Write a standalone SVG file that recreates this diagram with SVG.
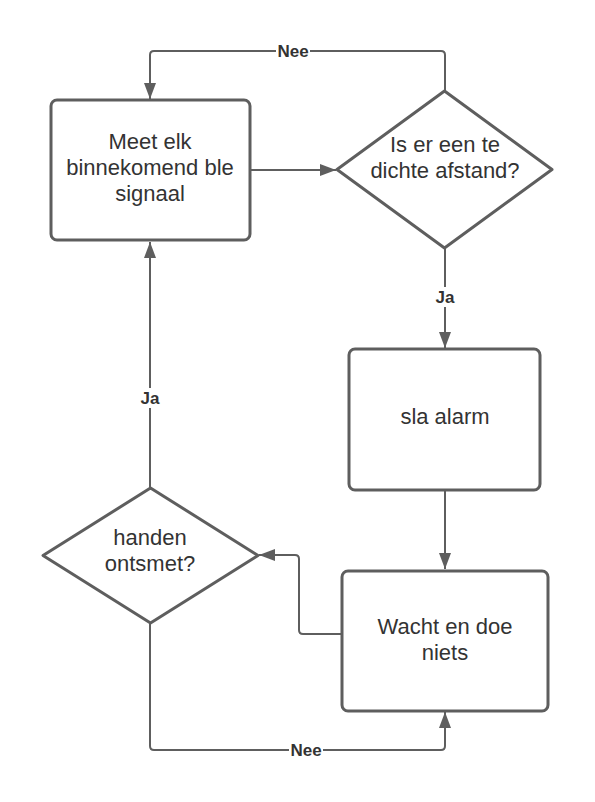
<svg xmlns="http://www.w3.org/2000/svg" width="595" height="802" viewBox="0 0 595 802">
<style>
.node{fill:#ffffff;stroke:#5e5e5e;stroke-width:3;stroke-linejoin:round}
.edge{fill:none;stroke:#5e5e5e;stroke-width:2;stroke-linejoin:round}
.t{font-family:"Liberation Sans",Arial,sans-serif;font-size:22px;fill:#333333;text-anchor:middle}
.lbl{font-family:"Liberation Sans",Arial,sans-serif;font-size:17px;font-weight:bold;fill:#333333;text-anchor:middle}
.bg{fill:#ffffff}
</style>
<defs>
<marker id="arr" markerUnits="userSpaceOnUse" markerWidth="16" markerHeight="12" refX="16" refY="6" orient="auto">
<path d="M0,0 L16,6 L0,12 Z" fill="#5e5e5e"/>
</marker>
</defs>
<rect width="595" height="802" fill="#ffffff"/>
<g id="connectors">
<path class="edge" d="M445,91 V55 Q445,51 441,51 H154 Q150,51 150,55 V99" marker-end="url(#arr)"/>
<path class="edge" d="M250,170 H336" marker-end="url(#arr)"/>
<path class="edge" d="M445,248 V348" marker-end="url(#arr)"/>
<path class="edge" d="M445,490 V569" marker-end="url(#arr)"/>
<path class="edge" d="M342,634 H303 Q299,634 299,630 V559 Q299,555 295,555 H259" marker-end="url(#arr)"/>
<path class="edge" d="M150,488 V242" marker-end="url(#arr)"/>
<path class="edge" d="M150,623 V746 Q150,750 154,750 H441 Q445,750 445,746 V712" marker-end="url(#arr)"/>
<rect class="bg" x="276" y="42" width="34" height="18"/>
<text class="lbl" x="293" y="57">Nee</text>
<rect class="bg" x="434" y="287" width="22" height="20"/>
<text class="lbl" x="445" y="303">Ja</text>
<rect class="bg" x="139" y="388" width="22" height="20"/>
<text class="lbl" x="150" y="404">Ja</text>
<rect class="bg" x="289" y="741" width="34" height="18"/>
<text class="lbl" x="306" y="756">Nee</text>
</g>
<g id="meet">
<rect class="node" x="51" y="100" width="199" height="140" rx="6"/>
<text class="t" x="150" y="149">Meet elk</text>
<text class="t" x="150" y="175">binnekomend ble</text>
<text class="t" x="150" y="201">signaal</text>
</g>
<g id="afstand">
<path class="node" d="M444.5,91 L552,169.5 L444.5,248 L337,169.5 Z"/>
<text class="t" x="445" y="152">Is er een te</text>
<text class="t" x="445" y="178">dichte afstand?</text>
</g>
<g id="alarm">
<rect class="node" x="349" y="349" width="191" height="141" rx="6"/>
<text class="t" x="445" y="424">sla alarm</text>
</g>
<g id="wacht">
<rect class="node" x="342" y="571" width="206" height="140" rx="6"/>
<text class="t" x="445" y="634">Wacht en doe</text>
<text class="t" x="445" y="660">niets</text>
</g>
<g id="handen">
<path class="node" d="M150.5,488 L258,555.5 L150.5,623 L43,555.5 Z"/>
<text class="t" x="150" y="545">handen</text>
<text class="t" x="150" y="571">ontsmet?</text>
</g>
</svg>
